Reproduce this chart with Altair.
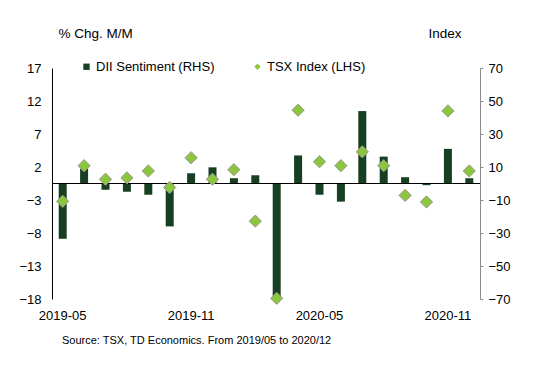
import altair as alt
import pandas as pd

months = ["2019-05", "2019-06", "2019-07", "2019-08", "2019-09", "2019-10", "2019-11", "2019-12",
          "2020-01", "2020-02", "2020-03", "2020-04", "2020-05", "2020-06", "2020-07", "2020-08",
          "2020-09", "2020-10", "2020-11", "2020-12"]
dii_sentiment = [-33.5, 9.0, -3.8, -5.0, -6.8, -26.0, 6.2, 9.8, 3.2, 5.0,
                 -69.0, 17.0, -6.8, -11.0, 43.9, 16.3, 3.8, -1.0, 21.0, 3.2]
tsx_index = [-3.2, 2.2, 0.15, 0.35, 1.4, -1.1, 3.4, 0.15, 1.6, -6.2,
             -17.9, 10.6, 2.8, 2.2, 4.3, 2.2, -2.3, -3.3, 10.5, 1.4]
series = ["DII Sentiment (RHS)", "TSX Index (LHS)"]
left_ticks = [17, 12, 7, 2, -3, -8, -13, -18]
right_ticks = [70, 50, 30, 10, -10, -30, -50, -70]
x_labels = ["2019-05", "2019-11", "2020-05", "2020-11"]

FONT = "Liberation Sans"
BAR_COLOR = "#173f22"
PT_COLOR = "#8cc540"

df = pd.DataFrame({
    "month": months * 2,
    "series": [series[0]] * len(months) + [series[1]] * len(months),
    "value": dii_sentiment + tsx_index,
})
zero_df = pd.DataFrame({"zero": [0]})

x_enc = alt.X("month:N", sort=months,
              scale=alt.Scale(paddingInner=0, paddingOuter=0),
              axis=alt.Axis(values=x_labels, labelAngle=0, title=None, domain=False,
                            ticks=False, labelPadding=10, labelFontSize=13,
                            labelColor="#000000", labelFont=FONT))

color_enc = alt.Color("series:N", scale=alt.Scale(domain=series, range=[BAR_COLOR, PT_COLOR]),
                      legend=alt.Legend(title=None, orient="none", legendX=28, legendY=-8,
                                        direction="horizontal", symbolSize=40,
                                        labelFontSize=13, labelFont=FONT, labelColor="#000000",
                                        columnPadding=36, labelOffset=3,
                                        symbolStrokeWidth=0))

axis_right = alt.Axis(orient="right", values=right_ticks, title="Index", titleAngle=0,
                      titleAlign="left", titleBaseline="alphabetic", titleX=-52, titleY=-31,
                      titleFontSize=13.5, titleFont=FONT, titleFontWeight="normal",
                      titleColor="#000000", grid=False, domainColor="#8c8c8c",
                      tickColor="#8c8c8c", tickSize=3, labelPadding=5, labelFontSize=13,
                      labelFont=FONT, labelColor="#000000")
right_scale = alt.Scale(domain=[-70, 70], nice=False, zero=False)

bars = alt.Chart(df).transform_filter(
    alt.datum.series == series[0]
).mark_bar(size=8).encode(
    x=x_enc,
    y=alt.Y("value:Q", scale=right_scale, axis=axis_right),
    color=color_enc,
)

zero_rule = alt.Chart(zero_df).mark_rule(color="#000000", strokeWidth=1.2).encode(
    y=alt.Y("zero:Q", scale=right_scale, axis=axis_right),
)

points = alt.Chart(df).transform_filter(
    alt.datum.series == series[1]
).mark_point(filled=True, size=150, opacity=1, stroke="#9a9a8a", strokeWidth=1).encode(
    x=x_enc,
    y=alt.Y("value:Q", scale=alt.Scale(domain=[-18, 17], nice=False, zero=False),
            axis=alt.Axis(orient="left", values=left_ticks, title="% Chg. M/M", titleAngle=0,
                          titleAlign="left", titleBaseline="alphabetic", titleX=6, titleY=-31,
                          titleFontSize=13.5, titleFont=FONT, titleFontWeight="normal",
                          titleColor="#000000", grid=False, domainColor="#000000",
                          ticks=False, labelPadding=11, labelFontSize=13, labelFont=FONT,
                          labelColor="#000000")),
    color=color_enc,
    shape=alt.Shape("series:N", scale=alt.Scale(domain=series, range=["square", "diamond"]),
                    legend=None),
)

chart = alt.layer(alt.layer(bars, zero_rule), points).resolve_scale(
    y="independent"
).properties(
    width=428,
    height=231,
    autosize=alt.AutoSizeParams(type="none"),
    padding={"left": 44, "top": 60, "right": 50, "bottom": 50},
    title=alt.TitleParams("Source: TSX, TD Economics. From 2019/05 to 2020/12", orient="bottom",
                          anchor="start", frame="group", fontSize=11, font=FONT,
                          fontWeight="normal", color="#000000", dx=10, offset=13),
).configure_view(stroke=None)

chart.save("out.html", embed_options={"renderer": "svg", "actions": False})
